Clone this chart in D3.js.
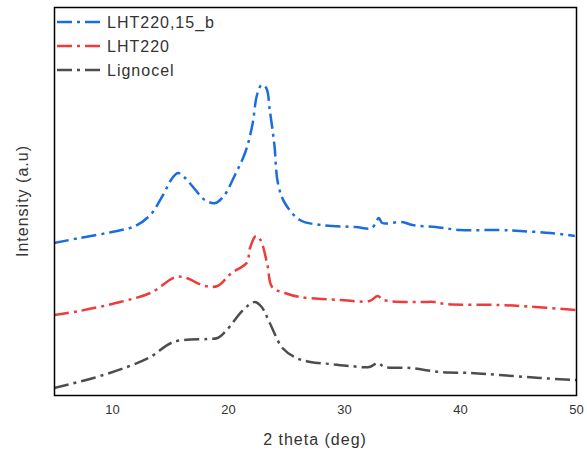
<!DOCTYPE html>
<html>
<head>
<meta charset="utf-8">
<script src="https://cdn.jsdelivr.net/npm/d3@7"></script>
<style>
  body { margin: 0; background: #fff; }
  text { font-family: "Liberation Sans", "DejaVu Sans", sans-serif; }
  .lbl { letter-spacing: 1px; }
</style>
</head>
<body>
<svg width="587" height="455"></svg>
<script>
// series names and colours
const seriesNames = ["LHT220,15_b", "LHT220", "Lignocel"];
const seriesColors = ["#1a6de0", "#ee3b3b", "#4d4d4d"];

// 2 theta (deg) / intensity (a.u., arbitrary offset units)
const blueX = [5, 7.2, 10, 12, 13.3, 14.4, 15.2, 15.7, 16.3, 17.2, 18, 18.9, 19.7, 20.6, 21.5, 22.1, 22.5, 22.9, 23.3, 23.6, 24, 24.3, 24.9, 26.2, 28, 31, 32.4, 33, 33.3, 35, 35.9, 37.9, 40, 43.4, 45.2, 47.8, 49.9];
const blueY = [152, 157, 163, 169, 180, 200, 217, 222, 217, 205, 195, 192, 200, 220, 243, 270, 300, 310, 307, 285, 250, 212, 192, 175, 170, 168, 167, 177, 172, 173, 170, 168, 165, 165, 164, 162, 159];

const redX = [5, 7.2, 10.7, 13.3, 15.5, 16.4, 18, 19.1, 20.3, 21.6, 21.9, 22.4, 22.8, 23.4, 23.8, 24.9, 26.2, 29.7, 32.2, 32.9, 33.4, 36.6, 37.8, 38.7, 43.4, 45.2, 50];
const redY = [80, 84, 93, 102, 118, 117, 109, 109, 122, 132, 147, 159, 155, 130, 108, 102, 98, 95, 94, 99, 95, 93, 93, 91, 90, 89, 85];

const grayX = [5, 8.4, 11.3, 13.3, 15.3, 18.2, 19.1, 19.9, 21.3, 22.3, 22.9, 23.6, 24.7, 25.9, 27.1, 28.8, 30.5, 32.2, 32.9, 33.5, 35.7, 38.3, 40.9, 43.4, 46.9, 50];
const grayY = [7, 17, 28, 38, 53, 56, 57, 65, 85, 93, 88, 72, 47, 37, 33, 31, 29, 28, 32, 28, 27, 23, 22, 20, 17, 15];

const xTicks = [10, 20, 30, 40, 50];

const svg = d3.select("svg");
const plotL = 54, plotR = 576, plotT = 7, plotB = 395;

const x = d3.scaleLinear().domain([5, 50]).range([plotL, plotR]);
const y = d3.scaleLinear().domain([0, 388]).range([plotB, plotT]);

const series = [
  blueX.map((v, i) => [v, blueY[i]]),
  redX.map((v, i) => [v, redY[i]]),
  grayX.map((v, i) => [v, grayY[i]])
];

const line = d3.line()
  .x(d => x(d[0]))
  .y(d => y(d[1]))
  .curve(d3.curveCatmullRom.alpha(0.5));

svg.append("defs").append("clipPath").attr("id", "clip")
  .append("rect").attr("x", plotL).attr("y", plotT).attr("width", plotR - plotL).attr("height", plotB - plotT);

svg.append("g").attr("clip-path", "url(#clip)")
  .selectAll("path")
  .data(series)
  .enter().append("path")
  .attr("d", line)
  .attr("fill", "none")
  .attr("stroke", (d, i) => seriesColors[i])
  .attr("stroke-width", 2.5)
  .attr("stroke-dasharray", "15,5,3,5");

// frame
svg.append("rect")
  .attr("x", plotL + 0.5).attr("y", plotT + 0.5)
  .attr("width", plotR - plotL).attr("height", plotB - plotT)
  .attr("fill", "none").attr("stroke", "#000").attr("stroke-width", 1.5);

// x axis labels (no tick marks)
const xAxis = d3.axisBottom(x).tickValues(xTicks).tickSize(0).tickPadding(10);
const gx = svg.append("g").attr("transform", `translate(0,${plotB})`).call(xAxis);
gx.select(".domain").remove();
gx.selectAll("text").attr("font-size", 13).attr("fill", "#333")
  .style("font-family", "Liberation Sans, sans-serif");

svg.append("text")
  .attr("class", "lbl")
  .attr("x", 315).attr("y", 445)
  .attr("text-anchor", "middle")
  .attr("font-size", 16).attr("fill", "#333")
  .text("2 theta (deg)");

svg.append("text")
  .attr("class", "lbl")
  .attr("transform", "translate(28,201) rotate(-90)")
  .attr("text-anchor", "middle")
  .attr("font-size", 16).attr("fill", "#333")
  .text("Intensity (a.u)");

// legend
const legend = svg.append("g");
seriesNames.forEach((name, i) => {
  const ly = 22 + i * 24;
  legend.append("line")
    .attr("x1", 57).attr("x2", 103).attr("y1", ly).attr("y2", ly)
    .attr("stroke", seriesColors[i]).attr("stroke-width", 2.5)
    .attr("stroke-dasharray", "15,5,3,5");
  legend.append("text")
    .attr("class", "lbl")
    .attr("x", 107).attr("y", ly + 6)
    .attr("font-size", 16).attr("fill", "#333")
    .text(name);
});
</script>
</body>
</html>
